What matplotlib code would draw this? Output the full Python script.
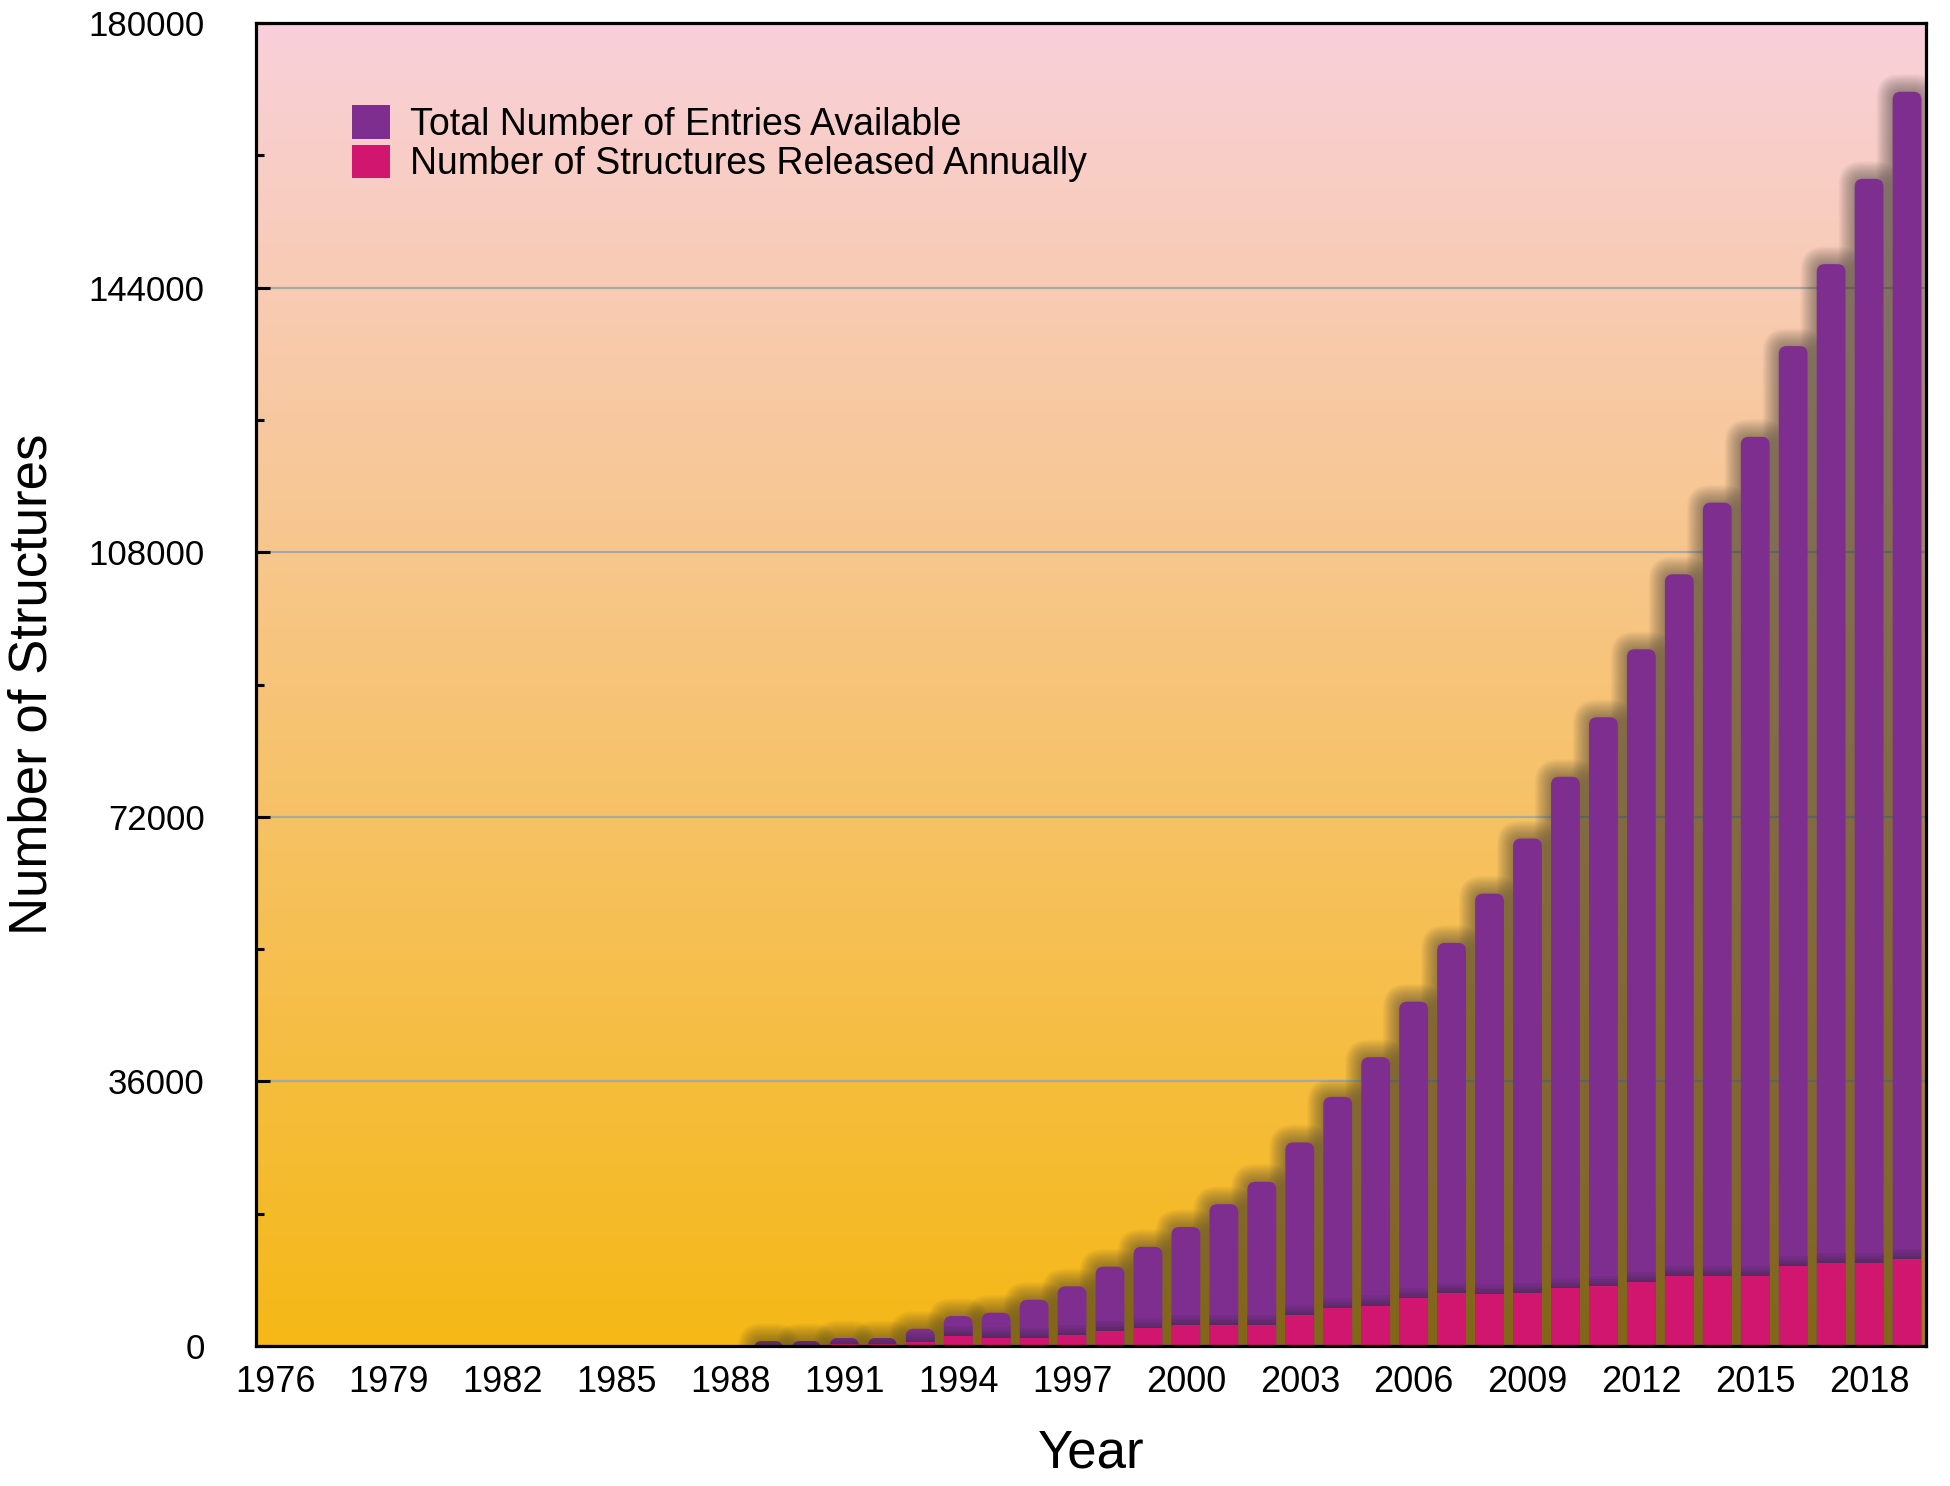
import numpy as np
import matplotlib
matplotlib.use("Agg")
import matplotlib.pyplot as plt
from matplotlib.patches import FancyBboxPatch, Patch
from matplotlib.colors import to_rgb

plt.rcParams['font.family'] = ['Liberation Sans', 'DejaVu Sans']

# ---------------- data ----------------
years = list(range(1976, 2020))
total_entries = [0] * 13 + [
    680, 680, 1090, 1090, 2350, 4080, 4530, 6300, 8120, 10800,
    13500, 16200, 19300, 22350, 27700, 33900, 39300, 46850, 54850, 61550,
    69050, 77450, 85550, 94800, 105000, 114750, 123700, 136050, 147200, 158800,
    170650]
annual_released = [0] * 13 + [
    150, 200, 250, 300, 550, 1400, 1150, 1100, 1500, 2080,
    2400, 2860, 2860, 2860, 4200, 5150, 5500, 6490, 7200, 7030,
    7250, 7850, 8160, 8750, 9560, 9560, 9560, 10920, 11300, 11330,
    11840]
x_tick_years = list(range(1976, 2019, 3))
y_ticks = [0, 36000, 72000, 108000, 144000, 180000]
y_tick_labels = ["0", "36000", "72000", "108000", "144000", "180000"]
series_labels = ["Total Number of Entries Available",
                 "Number of Structures Released Annually"]

# ---------------- style ----------------
PURPLE = "#7d2e8f"
PINK = "#d0166e"
DARK_BAND = "#5a2a66"
SHADOW = "#383630"

fig = plt.figure(figsize=(19.5, 14.86), dpi=100)
ax = fig.add_axes([0.1313, 0.0942, 0.8564, 0.8903])
x0, x1 = 1975.5, 2019.5
ymax = 180000

# background gradient
top_rgb = np.array([249, 208, 219]) / 255
bot_rgb = np.array([245, 184, 22]) / 255
t = np.linspace(0, 1, 512)[:, None]
grad = (bot_rgb[None, :] * (1 - t) + top_rgb[None, :] * t)[:, None, :]
ax.imshow(grad, extent=[x0, x1, 0, ymax], origin="lower", aspect="auto",
          zorder=0, interpolation="bilinear")
ax.set_xlim(x0, x1)
ax.set_ylim(0, ymax)

ax.set_axisbelow(True)
ax.yaxis.grid(True, color="#a9a9a4", lw=1.6)
ax.xaxis.grid(False)

# pixel scales for rounding / shadows
px_x = ax.bbox.width / (x1 - x0)
px_y = ax.bbox.height / ymax
asp = px_x / px_y

w = 0.76
r = 8.0 / px_x
ext = 3000

purple_bars = ax.bar(years, total_entries, width=w, color=PURPLE, zorder=3)
caps = {}
for yr, rect in zip(years, purple_bars):
    h = rect.get_height()
    xl = rect.get_x()
    rect.remove()
    if h <= 0:
        continue
    # soft shadow halo
    for k in range(1, 15):
        dx = k * 1.15 / px_x
        dy = k * 1.25 / px_y
        sh = FancyBboxPatch((xl - dx, -ext), w + 2 * dx, h + ext + dy,
                            boxstyle=f"round,pad=0,rounding_size={r + dx}",
                            mutation_aspect=asp, fc=SHADOW, ec="none",
                            alpha=0.04, zorder=2)
        ax.add_patch(sh)
    cap = FancyBboxPatch((xl, -ext), w, h + ext,
                         boxstyle=f"round,pad=0,rounding_size={r}",
                         mutation_aspect=asp, fc=PURPLE, ec="none", zorder=3)
    ax.add_patch(cap)
    caps[yr] = cap

# dark transition band above the annual part
band_h = 1.7 / px_y
c_dark = np.array(to_rgb(DARK_BAND))
c_pur = np.array(to_rgb(PURPLE))
nb = 6
for j in range(nb):
    f = j / nb
    col = c_dark * (1 - f) + c_pur * f
    bottoms = [a + j * band_h for a in annual_released]
    bb = ax.bar(years, [band_h if a > 0 else 0 for a in annual_released],
                bottom=bottoms, width=w, color=col, zorder=4, lw=0)
    for yr, rect in zip(years, bb):
        if yr in caps:
            rect.set_clip_path(caps[yr])
        else:
            rect.set_visible(False)

pink_bars = ax.bar(years, annual_released, width=w, color=PINK, zorder=5, lw=0)
for yr, rect in zip(years, pink_bars):
    if yr in caps:
        rect.set_clip_path(caps[yr])
    else:
        rect.set_visible(False)

# axes styling
for s in ax.spines.values():
    s.set_color("black")
    s.set_linewidth(2.3)
    s.set_zorder(10)

ax.set_yticks(y_ticks)
ax.set_yticklabels(y_tick_labels)
ax.set_yticks(np.arange(0, ymax + 1, 18000), minor=True)
ax.tick_params(axis="y", which="major", direction="in", length=10, width=2.2,
               labelsize=25, pad=37)
ax.tick_params(axis="y", which="minor", direction="in", length=6, width=2.2)
ax.set_xticks(x_tick_years)
ax.set_xticklabels([str(v) for v in x_tick_years])
ax.tick_params(axis="x", which="both", length=0, labelsize=26, pad=14)

ax.set_xlabel("Year", fontsize=38, labelpad=20)
ax.set_ylabel("Number of Structures", fontsize=38, labelpad=22)

handles = [Patch(fc=PURPLE, ec="none"), Patch(fc=PINK, ec="none")]
leg = ax.legend(handles, series_labels, loc="upper left",
                bbox_to_anchor=(0.0575, 0.938), frameon=False, fontsize=27,
                handlelength=1.0, handleheight=1.0, handletextpad=0.55,
                labelspacing=0.05, borderaxespad=0, borderpad=0)
leg.set_zorder(20)

fig.savefig("out.png", dpi=100, facecolor="white")
